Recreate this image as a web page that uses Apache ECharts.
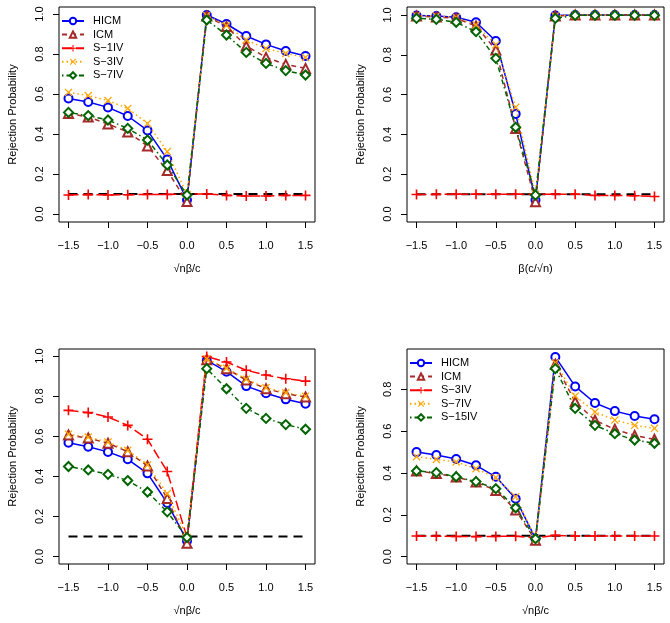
<!DOCTYPE html>
<html><head><meta charset="utf-8">
<script src="https://cdn.jsdelivr.net/npm/echarts@6/dist/echarts.min.js"></script>
<style>html,body{margin:0;padding:0;background:#fff}#c{width:670px;height:623px}</style>
</head><body><div id="c"></div>
<script>
// ---------- data ----------
const xValues = [-1.5,-1.25,-1,-0.75,-0.5,-0.25,0,0.25,0.5,0.75,1,1.25,1.5];
const xTicks = [-1.5,-1,-0.5,0,0.5,1,1.5];
const yTicksFull = [0,0.2,0.4,0.6,0.8,1.0];
const yTicksShort = [0,0.2,0.4,0.6,0.8];
const refLevel = 0.1;
const refRange = [-1.5, 1.5];

const p1Names = ['HICM','ICM','S−1IV','S−3IV','S−7IV'];
const p1HICM = [0.578,0.56,0.533,0.49,0.418,0.273,0.07,0.995,0.95,0.89,0.848,0.815,0.79];
const p1ICM  = [0.503,0.485,0.45,0.41,0.34,0.217,0.062,0.99,0.937,0.84,0.783,0.748,0.728];
const p1S1IV = [0.095,0.097,0.095,0.096,0.098,0.098,0.1,0.1,0.093,0.09,0.09,0.093,0.093];
const p1S3IV = [0.608,0.592,0.567,0.528,0.453,0.312,0.098,0.992,0.942,0.87,0.828,0.803,0.783];
const p1S7IV = [0.508,0.492,0.47,0.428,0.37,0.245,0.095,0.97,0.895,0.808,0.753,0.717,0.695];

const p2Names = ['HICM','ICM','S−1IV','S−3IV','S−7IV'];
const p2HICM = [0.997,0.995,0.988,0.963,0.869,0.503,0.07,0.997,1,1,1,1,1];
const p2ICM  = [0.995,0.99,0.983,0.945,0.824,0.43,0.062,0.995,1,1,1,1,1];
const p2S1IV = [0.098,0.099,0.1,0.1,0.1,0.1,0.1,0.1,0.1,0.093,0.093,0.092,0.088];
const p2S3IV = [0.997,0.995,0.988,0.95,0.85,0.536,0.099,0.995,1,1,1,1,1];
const p2S7IV = [0.983,0.978,0.963,0.916,0.782,0.436,0.095,0.983,0.998,0.998,0.998,0.998,0.998];

const p3Names = ['HICM','ICM','S−1IV','S−3IV','S−7IV'];
const p3HICM = [0.568,0.548,0.522,0.485,0.415,0.267,0.078,0.978,0.922,0.85,0.814,0.784,0.762];
const p3ICM  = [0.606,0.591,0.565,0.523,0.452,0.29,0.066,0.982,0.937,0.88,0.837,0.812,0.796];
const p3S1IV = [0.729,0.718,0.696,0.654,0.585,0.424,0.095,0.997,0.97,0.929,0.905,0.887,0.875];
const p3S3IV = [0.61,0.596,0.571,0.53,0.457,0.314,0.095,0.987,0.939,0.884,0.842,0.817,0.8];
const p3S7IV = [0.449,0.432,0.41,0.379,0.322,0.223,0.095,0.937,0.837,0.739,0.689,0.658,0.635];

const p4Names = ['HICM','ICM','S−3IV','S−7IV','S−15IV'];
const p4HICM  = [0.5,0.486,0.467,0.437,0.382,0.277,0.086,0.955,0.814,0.735,0.696,0.673,0.657];
const p4ICM   = [0.41,0.398,0.381,0.357,0.317,0.223,0.078,0.92,0.741,0.652,0.609,0.58,0.561];
const p4S3IV  = [0.099,0.098,0.097,0.096,0.097,0.098,0.09,0.102,0.099,0.099,0.099,0.099,0.099];
const p4S7IV  = [0.478,0.465,0.453,0.421,0.378,0.287,0.086,0.927,0.768,0.692,0.653,0.628,0.614];
const p4S15IV = [0.41,0.402,0.382,0.359,0.325,0.234,0.086,0.899,0.709,0.628,0.588,0.558,0.542];

const xTitles = ['√nβ/c','β(c/√n)','√nβ/c','√nβ/c'];
const yTitle = 'Rejection Probability';

// ---------- layout / style ----------
const FONT = '"Liberation Sans", Arial, Helvetica, sans-serif';
const panels = [
  {names:p1Names, data:[p1HICM,p1ICM,p1S1IV,p1S3IV,p1S7IV], grid:{left:59,top:7,width:256,height:215}, y:[-0.04,1.035], yt:yTicksFull, legend:{left:61,top:15}},
  {names:p2Names, data:[p2HICM,p2ICM,p2S1IV,p2S3IV,p2S7IV], grid:{left:407,top:7,width:257,height:215}, y:[-0.04,1.04], yt:yTicksFull},
  {names:p3Names, data:[p3HICM,p3ICM,p3S1IV,p3S3IV,p3S7IV], grid:{left:59,top:349,width:256,height:215}, y:[-0.037,1.035], yt:yTicksFull},
  {names:p4Names, data:[p4HICM,p4ICM,p4S3IV,p4S7IV,p4S15IV], grid:{left:407,top:349,width:257,height:215}, y:[-0.035,0.993], yt:yTicksShort, legend:{left:409,top:357}}
];
const plusPath = 'path://M4.2,0H5.8V4.2H10V5.8H5.8V10H4.2V5.8H0V4.2H4.2Z';
const xPath = 'path://M1.1,0L5,3.9L8.9,0L10,1.1L6.1,5L10,8.9L8.9,10L5,6.1L1.1,10L0,8.9L3.9,5L0,1.1Z';
const styles = [
  {color:'#0000FF', dash:'solid', symbol:'emptyCircle', size:8, bw:1},
  {color:'#A52A2A', dash:[5,4], symbol:'emptyTriangle', size:9, bw:1},
  {color:'#FF0000', dash:[10,4], symbol:plusPath, size:10, bw:0},
  {color:'#FFA500', dash:[1.5,3], symbol:xPath, size:8, bw:0},
  {color:'#006400', dash:[1.5,3,5,3], symbol:'emptyDiamond', size:9, bw:1}
];
const fmt = v => (v < 0 ? '−' : '') + Math.abs(v).toFixed(1);
const txt = {fontFamily:FONT, fontSize:11, color:'#000'};

const grids=[], xAxes=[], yAxes=[], series=[], legends=[];
panels.forEach((p,i)=>{
  grids.push(Object.assign({show:true, borderColor:'#000', borderWidth:1, backgroundColor:'transparent'}, p.grid));
  xAxes.push({type:'value', gridIndex:i, min:-1.62, max:1.62,
    splitLine:{show:false}, axisLine:{show:false, onZero:false},
    axisTick:{show:true, customValues:xTicks, length:6, lineStyle:{color:'#000', width:1}},
    axisLabel:Object.assign({customValues:xTicks, formatter:fmt, margin:18}, txt),
    name:xTitles[i], nameLocation:'middle', nameGap:41, nameTextStyle:txt});
  yAxes.push({type:'value', gridIndex:i, min:p.y[0], max:p.y[1],
    splitLine:{show:false}, axisLine:{show:false, onZero:false},
    axisTick:{show:true, customValues:p.yt, length:6, lineStyle:{color:'#000', width:1}},
    axisLabel:Object.assign({customValues:p.yt, formatter:v=>v.toFixed(1), rotate:90, margin:14}, txt),
    name:yTitle, nameLocation:'middle', nameGap:41, nameRotate:90, nameTextStyle:txt});
  series.push({type:'line', xAxisIndex:i, yAxisIndex:i, name:'ref'+i, silent:true, symbol:'none',
    data:refRange.map(x=>[x,refLevel]), lineStyle:{color:'#000', width:2, type:[9,6]}, z:1});
  p.names.forEach((nm,k)=>{
    const s = styles[k];
    series.push({type:'line', xAxisIndex:i, yAxisIndex:i, name:i+'|'+nm,
      data:xValues.map((x,j)=>[x,p.data[k][j]]),
      symbol:s.symbol, symbolSize:s.size, showAllSymbol:true,
      lineStyle:{color:s.color, width:1.5, type:s.dash},
      itemStyle:{color:s.color, borderColor:s.color, borderWidth:s.bw},
      emphasis:{disabled:true}, animation:false, z:2+k});
  });
  if(p.legend){
    legends.push({left:p.legend.left, top:p.legend.top, padding:0, orient:'vertical', itemWidth:22, itemHeight:8, itemGap:1.6,
      data:p.names.map(nm=>i+'|'+nm), formatter:n=>n.split('|')[1],
      textStyle:Object.assign({padding:[0,0,0,4], lineHeight:12}, txt), selectedMode:false});
  }
});

const chart = echarts.init(document.getElementById('c'), null, {renderer:'canvas'});
chart.setOption({backgroundColor:'#fff', animation:false, grid:grids, xAxis:xAxes, yAxis:yAxes, legend:legends, series:series});
</script></body></html>
